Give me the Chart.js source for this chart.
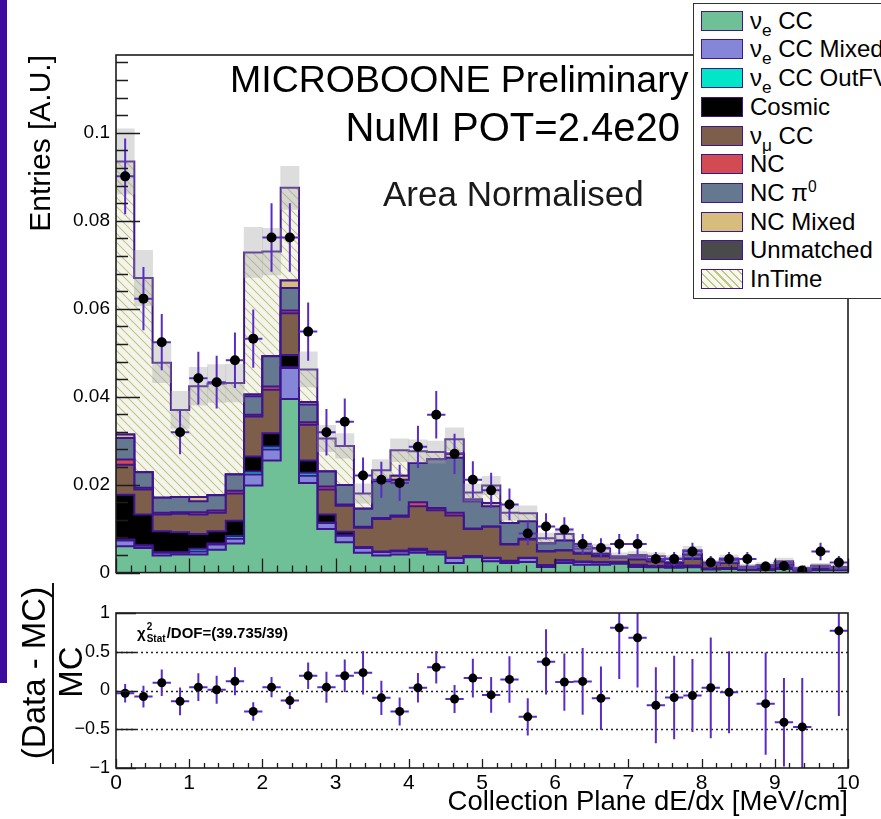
<!DOCTYPE html>
<html>
<head>
<meta charset="utf-8">
<script src="https://cdn.jsdelivr.net/npm/chart.js@4.4.1/dist/chart.umd.min.js"></script>
<style>
  html, body { margin: 0; padding: 0; background: #fff; }
  body { width: 881px; height: 819px; overflow: hidden; position: relative;
         font-family: "Liberation Sans", Arial, Helvetica, sans-serif; color: #000; }
  canvas { position: absolute; left: 0; }
  .txt { position: absolute; white-space: nowrap; line-height: 1; }
  .rot { transform-origin: 0 0; transform: rotate(-90deg); }
  #stripe { position: absolute; left: 0; top: 0; width: 7px; height: 683px; background: #3d0a9e; }
  #legend { position: absolute; left: 693px; top: 3px; width: 220px; height: 294px;
            border: 1px solid #333; background: #fff; }
  .lrow { position: absolute; left: 0; height: 24px; }
  .swatch { position: absolute; left: 7px; width: 40px; height: 18px; border: 1.5px solid #40168f; }
  .ltext { position: absolute; left: 56px; font-size: 24px; line-height: 24px; white-space: nowrap; }
  .ltext sub { font-size: 0.72em; vertical-align: -0.38em; line-height: 0; }
  .ltext sup { font-size: 0.65em; vertical-align: 0.6em; line-height: 0; }
  #fracbar { position: absolute; left: 52px; top: 583px; width: 2px; height: 181px; background: #111; }
</style>
</head>
<body>
<div id="stripe"></div>
<canvas id="mainPlot" width="881" height="590" style="top:0"></canvas>
<canvas id="ratioPlot" width="881" height="229" style="top:590px"></canvas>

<div class="txt" style="left:230px; top:61px; font-size:37.5px;">MICROBOONE Preliminary</div>
<div class="txt" style="right:201px; top:107px; font-size:40px;">NuMI POT=2.4e20</div>
<div class="txt" style="left:383px; top:176px; font-size:35px; color:#1a1a1a;">Area Normalised</div>

<div class="txt rot" style="left:25px; top:355px; width:300px; text-align:right; font-size:30px;">Entries [A.U.]</div>

<div class="txt rot" style="left:17px; top:823px; width:300px; text-align:center; font-size:33px;">(Data - MC)</div>
<div id="fracbar"></div>
<div class="txt rot" style="left:54px; top:822px; width:300px; text-align:center; font-size:33px;">MC</div>

<div class="txt" style="left:137px; top:625px; font-size:15px; font-weight:bold;">χ<span style="display:inline-block; position:relative; width:21px; height:15px; vertical-align:top;"><span style="position:absolute; left:1px; top:-3px; font-size:10px;">2</span><span style="position:absolute; left:1px; top:9px; font-size:10px;">Stat</span></span>/DOF=(39.735/39)</div>

<div class="txt" style="right:33px; top:787px; font-size:27.5px;">Collection Plane dE/dx [MeV/cm]</div>

<div id="legend"></div>

<script>
// Histogram binning: 40 bins of dE/dx between 0 and 10 MeV/cm
const NBINS = 40, X_MIN = 0, X_MAX = 10;
const BIN_W = (X_MAX - X_MIN) / NBINS;

// Legend / stack order (bottom of the stack first)
const componentNames = [
  'ν<sub>e</sub> CC', 'ν<sub>e</sub> CC Mixed', 'ν<sub>e</sub> CC OutFV', 'Cosmic',
  'ν<sub>μ</sub> CC', 'NC', 'NC π<sup>0</sup>', 'NC Mixed', 'Unmatched', 'InTime'
];
const componentColors = [
  '#6fbf97', '#8686d8', '#00e6c6', '#000000', '#7c5e4a',
  '#d24a52', '#647890', '#d6bd7b', '#4a4a4a', 'hatch'
];

// Simulated contributions per bin (area normalised)
const nueCC = [.0060,.0056,.0039,.0041,.0041,.0052,.0066,.0198,.0255,.0395,.0204,.0099,.0069,.0045,.0039,.0041,.0045,.0041,.0022,.0035,
               .0026,.0022,.0024,.0013,.0022,.0018,.0018,.0020,.0013,.0012,.0011,.0012,.0007,.0008,.0006,.0006,.0008,.0005,.0006,.0006];
const nueCCMixed = [.0013,.0005,.0006,.0004,.0007,.0012,.0011,.0025,.0025,.0070,.0016,.0014,.0015,.0011,.0008,.0007,.0005,.0005,.0011,.0002,
                    .0007,.0004,.0009,.0003,.0005,.0006,.0005,.0003,.0004,.0003,.0003,.0003,.0002,.0002,.0001,.0001,.0002,.0001,.0001,.0001];
const nueCCOutFV = [.0002,.0001,.0001,.0001,.0006,.0002,.0006,.0007,.0007,.0002,.0007,.0001,.0001,0,0,0,0,0,0,0,
                    0,0,0,0,0,0,0,0,0,0,0,0,0,0,0,0,0,0,0,0];
const cosmic = [.0102,.0070,.0048,.0046,.0034,.0028,.0035,.0034,.0030,.0028,.0028,.0018,.0008,.0002,.0001,.0002,.0004,.0002,.0001,.0001,
                .0001,.0001,.0001,.0001,.0001,.0001,.0001,0,.0001,0,0,.0001,0,0,0,0,0,0,0,0];
const numuCC = [.0068,.0057,.0038,.0042,.0044,.0042,.0062,.0091,.0099,.0095,.0081,.0057,.0059,.0044,.0074,.0077,.0097,.0094,.0096,.0061,
                .0070,.0037,.0041,.0031,.0022,.0018,.0013,.0010,.0012,.0010,.0006,.0015,.0008,.0012,.0004,.0005,.0008,.0002,.0004,.0003];
const nc = [.0012,.0004,.0004,.0003,.0005,.0005,.0006,.0004,.0007,.0006,.0006,.0007,.0003,.0002,.0002,.0003,.0009,.0005,.0006,.0001,
            .0001,.0001,.0002,.0001,.0001,.0001,.0001,0,.0001,0,0,.0001,0,0,0,0,0,0,0,0];
const ncPi0 = [.0049,.0035,.0034,.0035,.0025,.0035,.0037,.0042,.0069,.0051,.0040,.0034,.0044,.0041,.0084,.0081,.0089,.0111,.0125,.0062,
               .0046,.0048,.0040,.0018,.0022,.0010,.0005,.0002,.0005,.0006,.0004,.0009,.0003,.0006,.0002,.0003,.0004,.0001,.0003,.0002];
const ncMixed = [.0008,0,0,0,.0010,0,0,.0004,0,.0017,.0006,0,0,0,0,.0009,0,0,.0009,.0004,
                 .0007,0,0,0,0,0,0,0,0,0,0,0,0,0,0,0,0,0,0,0];
const unmatched = [0,0,0,0,0,0,0,0,0,0,0,0,0,0,0,0,0,0,0,0,
                   0,0,0,0,0,0,0,0,0,0,0,0,0,0,0,0,0,0,0,0];
const inTime = [.0621,.0442,.0307,.0198,.0252,.0254,.0208,.0323,.0238,.0211,.0074,.0075,.0089,.0035,.0025,.0058,.0027,.0016,.0033,.0016,
                .0040,.0023,.0018,.0011,.0015,.0006,.0012,.0002,.0004,.0006,.0008,.0010,.0002,.0004,.0001,.0002,.0004,.0001,.0002,.0001];

// MC statistical uncertainty on the stack total
const mcStatErr = [.0074,.0063,.0045,.0042,.0043,.0043,.0043,.0057,.0053,.0049,.0040,.0030,.0028,.0022,.0024,.0026,.0026,.0025,.0026,.0020,
                   .0021,.0017,.0017,.0012,.0013,.0010,.0010,.0008,.0008,.0008,.0007,.0009,.0006,.0008,.0005,.0006,.0007,.0005,.0005,.0005];

// Beam-on data
const dataVals = [.0901,.0623,.0524,.0319,.0442,.0433,.0483,.0532,.0762,.0762,.0548,.0319,.0343,.0221,.0211,.0204,.0286,.0359,.0270,.0211,
                  .0187,.0155,.0089,.0105,.0098,.0065,.0056,.0065,.0065,.0031,.0031,.0048,.0023,.0031,.0031,.0014,.0015,.0005,.0048,.0023];
const dataErr = [.0086,.0072,.0064,.0050,.0060,.0060,.0063,.0066,.0078,.0078,.0066,.0053,.0053,.0041,.0041,.0041,.0048,.0054,.0046,.0042,
                 .0040,.0036,.0027,.0030,.0028,.0023,.0022,.0023,.0023,.0016,.0016,.0020,.0015,.0016,.0016,.0011,.0011,.0008,.0020,.0015];

// (Data - MC) / MC
const ratioVals = [-0.035,-0.078,0.10,-0.14,0.043,0.009,0.12,-0.27,0.043,-0.13,0.19,0.043,0.19,0.23,-0.095,-0.27,0.035,0.30,-0.11,0.16,
                   -0.057,0.143,-0.34,0.37,0.109,0.117,-0.10,0.81,0.68,-0.19,-0.09,-0.065,0.035,-0.022,null,-0.17,-0.41,-0.47,null,0.77];
const ratioErr = [0.12,0.14,0.17,0.18,0.18,0.18,0.18,0.12,0.13,0.11,0.17,0.20,0.21,0.28,0.22,0.18,0.19,0.21,0.18,0.25,
                  0.23,0.30,0.24,0.42,0.37,0.43,0.41,0.66,0.64,0.49,0.54,0.47,0.65,0.53,null,0.66,0.57,0.63,null,1.1];
const ratioRefLines = [0.5, 0, -0.5];

const OUTLINE = '#3e148f';
const ERR_COLOR = '#5a2cc6';
const FONT = "'Liberation Sans', Arial, Helvetica, sans-serif";
Chart.defaults.font.family = FONT;
Chart.defaults.color = '#000';

const components = [nueCC, nueCCMixed, nueCCOutFV, cosmic, numuCC, nc, ncPi0, ncMixed, unmatched, inTime];
const edges = Array.from({length: NBINS + 1}, (_, i) => X_MIN + i * BIN_W);
const centers = edges.slice(0, -1).map(e => e + BIN_W / 2);
const stepPoints = vals => edges.map((x, i) => ({x, y: vals[Math.min(i, NBINS - 1)]}));
const mcTotal = centers.map((_, i) => components.reduce((s, c) => s + c[i], 0));

// Diagonal hatch used for the InTime component
function makeHatch(ctx) {
  const t = document.createElement('canvas');
  t.width = 9; t.height = 9;
  const g = t.getContext('2d');
  g.fillStyle = '#f4f4ef';
  g.fillRect(0, 0, 9, 9);
  g.strokeStyle = '#c3c77a';
  g.lineWidth = 1.1;
  g.beginPath();
  g.moveTo(-1, -1); g.lineTo(10, 10);
  g.moveTo(-1, 8); g.lineTo(1, 10);
  g.moveTo(8, -1); g.lineTo(10, 1);
  g.stroke();
  return ctx.createPattern(t, 'repeat');
}

// Legend box
(function buildLegend() {
  const box = document.getElementById('legend');
  componentNames.forEach((name, i) => {
    const cy = 16.7 + i * 28.7;
    const row = document.createElement('div');
    row.className = 'lrow';
    row.style.top = (cy - 12) + 'px';
    const sw = document.createElement('div');
    sw.className = 'swatch';
    sw.style.top = '2px';
    if (componentColors[i] === 'hatch') {
      sw.style.background = 'repeating-linear-gradient(45deg, #f6f6f2 0px, #f6f6f2 4px, #c3c77a 4px, #c3c77a 5.5px)';
    } else {
      sw.style.background = componentColors[i];
    }
    const tx = document.createElement('div');
    tx.className = 'ltext';
    tx.style.top = '0px';
    tx.innerHTML = name;
    row.appendChild(sw);
    row.appendChild(tx);
    box.appendChild(row);
  });
})();

// Error bars (horizontal = bin width, vertical = uncertainty), drawn under the markers
const errorBars = {
  id: 'errorBars',
  beforeDatasetDraw(chart, args) {
    const ds = chart.data.datasets[args.index];
    if (!ds.errY) return;
    const {ctx, chartArea: a} = chart;
    const xs = chart.scales.x, ys = chart.scales[ds.yAxisID || 'y'];
    ctx.save();
    ctx.beginPath();
    ctx.rect(a.left, a.top, a.right - a.left, a.bottom - a.top);
    ctx.clip();
    ctx.strokeStyle = ds.errColor;
    ctx.lineWidth = 2;
    ctx.beginPath();
    ds.data.forEach((p, i) => {
      if (p.y == null || ds.errY[i] == null) return;
      const yc = ys.getPixelForValue(p.y);
      const xc = xs.getPixelForValue(p.x);
      ctx.moveTo(xs.getPixelForValue(p.x - ds.errX), yc);
      ctx.lineTo(xs.getPixelForValue(p.x + ds.errX), yc);
      ctx.moveTo(xc, ys.getPixelForValue(p.y - ds.errY[i]));
      ctx.lineTo(xc, ys.getPixelForValue(p.y + ds.errY[i]));
    });
    ctx.stroke();
    ctx.restore();
  }
};

// Frame, inward tick marks and dotted reference lines
const frameTicks = {
  id: 'frameTicks',
  beforeDatasetsDraw(chart, args, opts) {
    if (!opts.refLines) return;
    const {ctx, chartArea: a} = chart;
    const ys = chart.scales.y;
    ctx.save();
    ctx.strokeStyle = '#222';
    ctx.lineWidth = 1.3;
    ctx.setLineDash([2, 3]);
    ctx.beginPath();
    opts.refLines.forEach(v => {
      const py = Math.round(ys.getPixelForValue(v)) + 0.5;
      ctx.moveTo(a.left, py); ctx.lineTo(a.right, py);
    });
    ctx.stroke();
    ctx.restore();
  },
  afterDatasetsDraw(chart, args, opts) {
    const {ctx, chartArea: a} = chart;
    const xs = chart.scales.x, ys = chart.scales.y;
    ctx.save();
    ctx.strokeStyle = '#1c1c1c';
    ctx.lineWidth = 1.3;
    ctx.beginPath();
    const isMajor = (v, step) => Math.abs(v / step - Math.round(v / step)) < 1e-6;
    const nx = Math.round((xs.max - xs.min) / opts.xMinor);
    for (let k = 0; k <= nx; k++) {
      const v = xs.min + k * opts.xMinor;
      const px = Math.round(xs.getPixelForValue(v)) + 0.5;
      ctx.moveTo(px, a.bottom);
      ctx.lineTo(px, a.bottom - (isMajor(v, opts.xMajor) ? opts.xMajorLen : opts.xMinorLen));
    }
    const ny = Math.round((opts.yTop - ys.min) / opts.yMinor);
    for (let k = 0; k <= ny; k++) {
      const v = ys.min + k * opts.yMinor;
      const py = Math.round(ys.getPixelForValue(v)) + 0.5;
      ctx.moveTo(a.left, py);
      ctx.lineTo(a.left + (isMajor(v, opts.yMajor) ? opts.yMajorLen : opts.yMinorLen), py);
    }
    ctx.stroke();
    ctx.lineWidth = 1.6;
    ctx.strokeRect(a.left, a.top, a.right - a.left, a.bottom - a.top);
    ctx.restore();
  }
};

const fmtTop = v => (Math.abs(v) < 1e-9 ? '0' : String(Number(v.toFixed(3))));
const fmtRatio = v => (Math.abs(v) < 1e-9 ? '0' : (v < 0 ? '\u2212' : '') + String(Number(Math.abs(v).toFixed(2))));

// ---- Stacked distribution with data ----
const mainCanvas = document.getElementById('mainPlot');
const hatch = makeHatch(mainCanvas.getContext('2d'));
const Y_MAX = 0.1177;

// Each bin value holds from its lower edge up to the next edge
const stackSets = components.map((vals, k) => ({
  type: 'line',
  label: componentNames[k],
  data: stepPoints(vals),
  stepped: 'before',
  fill: k === 0 ? 'origin' : '-1',
  backgroundColor: componentColors[k] === 'hatch' ? hatch : componentColors[k],
  borderColor: OUTLINE,
  borderWidth: 2,
  pointRadius: 0,
  yAxisID: 'y',
  order: 3
}));

new Chart(mainCanvas, {
  type: 'line',
  data: {
    datasets: [
      ...stackSets,
      {
        type: 'bar',
        label: 'MC stat. error',
        data: centers.map((x, i) => ({x, y: [mcTotal[i] - mcStatErr[i], mcTotal[i] + mcStatErr[i]]})),
        backgroundColor: 'rgba(165,165,165,0.38)',
        borderWidth: 0,
        barPercentage: 1,
        categoryPercentage: 1,
        grouped: false,
        yAxisID: 'yd',
        order: 2
      },
      {
        type: 'scatter',
        label: 'Data',
        data: centers.map((x, i) => ({x, y: dataVals[i]})),
        errY: dataErr,
        errX: BIN_W / 2,
        errColor: ERR_COLOR,
        pointRadius: 5,
        pointBackgroundColor: '#000',
        pointBorderWidth: 0,
        yAxisID: 'yd',
        order: 1
      }
    ]
  },
  options: {
    responsive: false,
    animation: false,
    events: [],
    layout: {padding: {left: 0, top: 55, right: 33, bottom: 17}},
    plugins: {
      legend: {display: false},
      tooltip: {enabled: false},
      frameTicks: {xMajor: 1, xMinor: 0.2, xMajorLen: 14, xMinorLen: 7,
                   yMajor: 0.02, yMinor: 0.004, yTop: 0.116, yMajorLen: 24, yMinorLen: 12}
    },
    scales: {
      x: {type: 'linear', min: X_MIN, max: X_MAX, display: false, offset: false},
      y: {
        stacked: true, min: 0, max: Y_MAX,
        afterFit: s => { s.width = 116; },
        grid: {display: false, drawTicks: false},
        border: {display: false},
        ticks: {stepSize: 0.02, includeBounds: false, padding: 6, font: {size: 19}, color: '#000', callback: fmtTop}
      },
      yd: {display: false, min: 0, max: Y_MAX}
    }
  },
  plugins: [errorBars, frameTicks]
});

// ---- Ratio panel ----
new Chart(document.getElementById('ratioPlot'), {
  type: 'scatter',
  data: {
    datasets: [{
      label: '(Data - MC)/MC',
      data: centers.map((x, i) => ({x, y: ratioVals[i]})),
      errY: ratioErr,
      errX: BIN_W / 2,
      errColor: ERR_COLOR,
      pointRadius: 4.5,
      pointBackgroundColor: '#000',
      pointBorderWidth: 0,
      yAxisID: 'y'
    }]
  },
  options: {
    responsive: false,
    animation: false,
    events: [],
    layout: {padding: {left: 0, top: 23, right: 33, bottom: 0}},
    plugins: {
      legend: {display: false},
      tooltip: {enabled: false},
      frameTicks: {refLines: ratioRefLines, xMajor: 1, xMinor: 0.2, xMajorLen: 9, xMinorLen: 5,
                   yMajor: 0.5, yMinor: 0.5, yTop: 1, yMajorLen: 20, yMinorLen: 10}
    },
    scales: {
      x: {
        type: 'linear', min: X_MIN, max: X_MAX,
        afterFit: s => { s.height = 51; },
        grid: {display: false, drawTicks: false},
        border: {display: false},
        ticks: {stepSize: 1, autoSkip: false, maxRotation: 0, padding: 3, font: {size: 21}, color: '#000',
                callback: v => String(v)}
      },
      y: {
        min: -1, max: 1,
        afterFit: s => { s.width = 116; },
        grid: {display: false, drawTicks: false},
        border: {display: false},
        ticks: {stepSize: 0.5, padding: 6, font: {size: 18}, color: '#000', callback: fmtRatio}
      }
    }
  },
  plugins: [errorBars, frameTicks]
});
</script>
</body>
</html>
